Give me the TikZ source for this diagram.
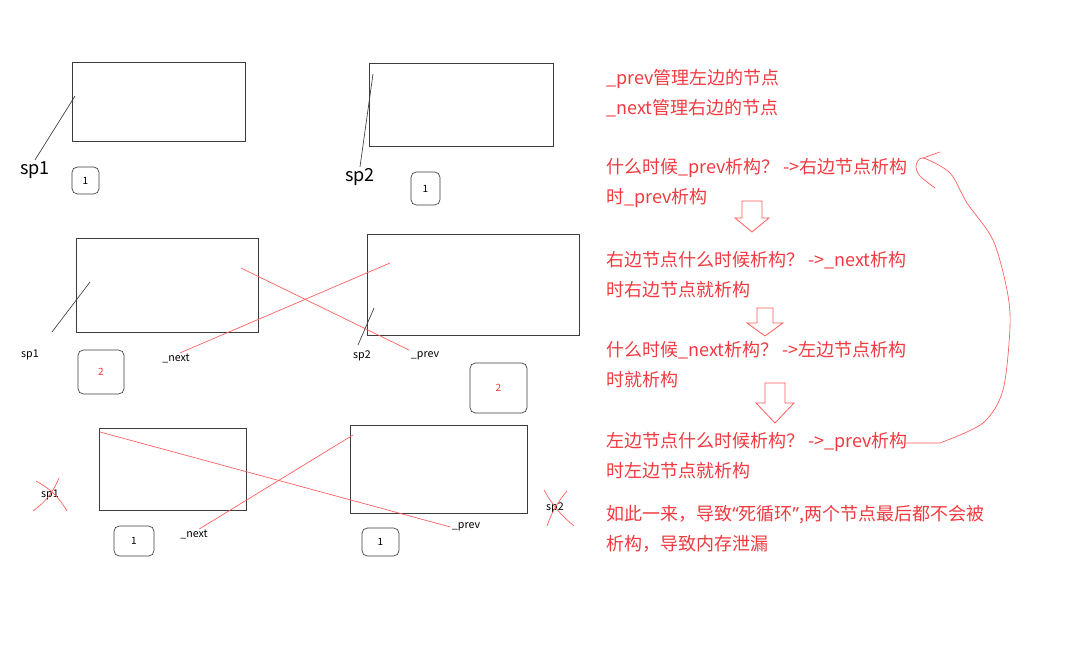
\documentclass[tikz,border=0pt]{standalone}
\usepackage{fontspec}
\setmainfont{Noto Sans CJK SC}
\newfontfamily\quotefont{Noto Sans}
\usetikzlibrary{positioning}
\definecolor{InkRed}{HTML}{F03A40}
\definecolor{LineRed}{HTML}{FF5A5A}
\definecolor{BoxGray}{HTML}{3C3C3C}
\newcommand{\notetext}{\fontsize{13.5}{22.5}\selectfont}

\begin{document}
\begin{tikzpicture}[x=0.75pt, y=-0.75pt,
    objbox/.style 2 args={draw=BoxGray, line width=0.6pt, inner sep=0pt,
                          minimum width=#1*0.75pt, minimum height=#2*0.75pt},
    cntbox/.style 2 args={draw=BoxGray, line width=0.5pt, rounded corners=4pt, inner sep=0pt,
                          minimum width=#1*0.75pt, minimum height=#2*0.75pt, font=\fontsize{7.5}{8}\selectfont},
    biglabel/.style={font=\fontsize{13.5}{15}\selectfont, inner sep=1pt},
    smalllabel/.style={font=\fontsize{8}{9}\selectfont, inner sep=1pt},
    ptr/.style={BoxGray, line width=0.5pt},
    redptr/.style={LineRed, line width=0.5pt},
    note/.style={text=InkRed, font=\notetext, align=left, anchor=west, inner sep=0pt},
    hollow/.style={LineRed, line width=0.6pt, fill=white, line join=miter}]
\useasboundingbox (0,0) rectangle (1072,670);

% first state: two shared_ptr objects, count 1
\node[objbox={173}{79}] (objA1) at (158.5,101.5) {};
\node[objbox={184}{83}] (objB1) at (461,104.5) {};
\node[biglabel] (spA1) at (35,170) {sp1};
\node[biglabel] (spB1) at (360,177) {sp2};
\coordinate (tipA1) at (75,96);
\coordinate (tipB1) at (373,74);
\draw[ptr] (spA1.north) -- (tipA1);
\draw[ptr] (spB1.north) -- (tipB1);
\node[cntbox={27}{27}] (cntA1) at (85.5,180.5) {1};
\node[cntbox={29}{33}] (cntB1) at (425.5,188.5) {1};

% second state: linked, count 2
\node[objbox={182}{94}] (objA2) at (167,285) {};
\node[objbox={212}{101}] (objB2) at (473,284.5) {};
\node[smalllabel] (spA2) at (30,355) {sp1};
\node[smalllabel] (spB2) at (362,356) {sp2};
\coordinate (tipA2) at (90,282);
\coordinate (tailA2) at (52,332);
\coordinate (tipB2) at (374,308);
\coordinate (tailB2) at (358,345);
\draw[ptr] (tailA2) -- (tipA2);
\draw[ptr] (tailB2) -- (tipB2);
\node[cntbox={46}{44}, text=InkRed] (cntA2) at (101,372) {2};
\node[cntbox={57}{50}, text=InkRed] (cntB2) at (498.5,388) {2};
\node[smalllabel] (nextA2) at (176,359) {\_next};
\node[smalllabel] (prevB2) at (425,356) {\_prev};
\coordinate (inB2) at (390,263);
\coordinate (inA2) at (241,268);
\draw[redptr] ([xshift=3pt]nextA2.north) -- (inB2);
\draw[redptr] (inA2) -- (prevB2.north west);

% third state: sp1, sp2 gone, count 1 each
\node[objbox={147}{82}] (objA3) at (172.5,469) {};
\node[objbox={177}{88}] (objB3) at (438.5,469) {};
\node[smalllabel] (spA3) at (50,495) {sp1};
\node[smalllabel] (spB3) at (555,508) {sp2};
\draw[redptr] (36,481) to[bend left=15] (67,511);
\draw[redptr] (59,478) to[bend left=15] (33,511);
\draw[redptr] (544,490) to[bend right=10] (574,526);
\draw[redptr] (567,491) to[bend right=10] (547,526);
\node[cntbox={40}{30}] (cntA3) at (134,541) {\raisebox{-5pt}{1}};
\node[cntbox={37}{28}] (cntB3) at (380.5,542) {\raisebox{-4pt}{1}};
\node[smalllabel] (nextA3) at (194,535) {\_next};
\node[smalllabel] (prevB3) at (466,527) {\_prev};
\coordinate (inA3) at (100,432);
\coordinate (inB3) at (353,435);
\draw[redptr] (inA3) -- (prevB3.west);
\draw[redptr] ([xshift=4pt]nextA3.north) -- (inB3);

% explanation
\node[note] (n1) at (606,93) {\_prev管理左边的节点\\\_next管理右边的节点};
\node[note] (n2) at (606,183) {什么时候\_prev析构？ ->右边节点析构\\时\_prev析构};
\node[note] (n3) at (606,275) {右边节点什么时候析构？ ->\_next析构\\时右边节点就析构};
\node[note] (n4) at (606,365) {什么时候\_next析构？ ->左边节点析构\\时就析构};
\node[note] (n5) at (606,456) {左边节点什么时候析构？ ->\_prev析构\\时左边节点就析构};
\node[note] (n6) at (606,529) {如此一来，导致{\quotefont“}死循环{\quotefont”},两个节点最后都不会被\\析构，导致内存泄漏};

\foreach \ax/\at/\ah/\ab/\sw/\hw in {752/201/218/232/10/17, 765/308/323/336/8/18, 775/383/403/423/10/19}
  \draw[hollow] (\ax-\sw,\at) -- (\ax+\sw,\at) -- (\ax+\sw,\ah) -- (\ax+\hw,\ah)
    -- (\ax,\ab) -- (\ax-\hw,\ah) -- (\ax-\sw,\ah) -- cycle;

% the loop back
\coordinate (loopstart) at (906,443);
\draw[redptr] (loopstart) -- (940,443)
  plot[smooth] coordinates {(940,443) (983,423) (1003,390) (1010,327) (1007,290)
    (993,240) (967,203) (950,173) (923,158) (916,166) (920,176) (935,188)};
\draw[redptr] (940,152) -- (923,158);
\end{tikzpicture}
\end{document}
